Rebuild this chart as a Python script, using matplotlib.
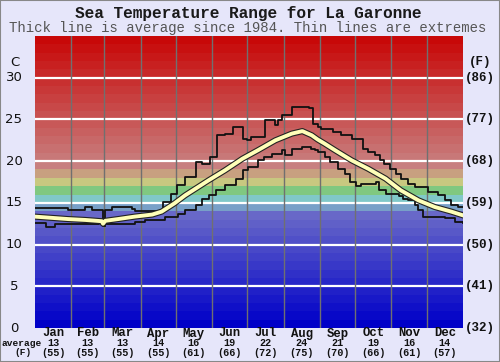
import matplotlib
matplotlib.use('Agg')
import matplotlib.pyplot as plt
import matplotlib.patheffects as pe
from matplotlib.patches import Rectangle

# ---------------- data ----------------
months = ['Jan', 'Feb', 'Mar', 'Apr', 'May', 'Jun', 'Jul', 'Aug', 'Sep', 'Oct', 'Nov', 'Dec']
month_days = [31, 28, 31, 30, 31, 30, 31, 31, 30, 31, 30, 31]
month_avg_c = [13, 13, 13, 14, 16, 19, 22, 24, 21, 19, 16, 14]
month_avg_f = [55, 55, 55, 55, 61, 66, 72, 75, 70, 66, 61, 57]
c_ticks = [0, 5, 10, 15, 20, 25, 30]
f_ticks = [32, 41, 50, 59, 68, 77, 86]

avg_day = [0, 28, 43, 57, 58, 60, 71, 85, 100, 108, 119, 128, 148, 162, 177, 190,
           205, 219, 228, 236, 241, 247, 256, 270, 284, 299, 312, 327, 341, 355, 365]
avg_temp = [13.35, 13.06, 12.95, 12.8, 12.5, 12.85, 13.06, 13.35, 13.6, 13.95, 14.95, 15.9,
            17.7, 18.9, 20.3, 21.3, 22.5, 23.3, 23.6, 23.1, 22.6, 22.1, 21.3, 20.1, 19.1,
            17.9, 16.5, 15.3, 14.5, 13.95, 13.5]

max_day = [0, 28, 43, 49, 58, 60, 66, 83, 85, 109, 116, 121, 128, 137, 142, 149, 155,
           162, 169, 177, 181, 184, 196, 205, 207, 211, 219, 234, 237, 241, 244, 254, 261,
           270, 280, 284, 290, 294, 298, 303, 308, 312, 318, 324, 335, 344, 350, 355, 361, 365]
max_temp = [14.35, 14.1, 14.5, 14.1, 12.2, 14.1, 14.5, 14.3, 14.0, 15.1, 16.1, 17.1, 18.1,
            19.9, 19.7, 20.5, 23.1, 23.3, 24.1, 22.7, 22.5, 22.9, 24.9, 24.3, 24.9, 25.5,
            26.5, 26.4, 24.5, 24.1, 23.9, 23.5, 23.1, 22.7, 21.5, 21.1, 20.7, 20.1, 19.6,
            19.1, 18.5, 17.9, 17.3, 16.9, 16.3, 15.9, 15.3, 14.7, 14.5, 14.5]

min_day = [0, 9, 17, 55, 58, 60, 85, 94, 111, 122, 128, 137, 142, 148, 154, 162, 171, 177,
           182, 190, 195, 202, 211, 213, 219, 228, 235, 239, 241, 247, 252, 258, 264, 269,
           274, 278, 291, 293, 299, 310, 314, 318, 324, 327, 331, 350, 358, 365]
min_temp = [12.6, 12.1, 12.5, 12.6, 12.2, 12.5, 12.75, 12.9, 13.3, 13.7, 14.1, 14.7, 15.5,
            15.9, 16.5, 17.1, 17.9, 18.9, 19.3, 20.1, 20.5, 20.9, 21.3, 20.7, 21.5, 21.7,
            21.5, 21.3, 21.1, 20.5, 19.9, 19.1, 18.5, 17.5, 17.0, 17.3, 17.5, 16.5, 16.1,
            15.8, 15.5, 15.3, 14.7, 14.1, 13.35, 13.15, 12.75, 12.55]

# ---------------- style ----------------
MONO = ['Liberation Mono', 'DejaVu Sans Mono']
SANS = ['DejaVu Sans']
BG = '#e6e6fa'

def band_color(i):
    if i <= 13:
        v = 8 * i
        return (v / 255, v / 255, 200 / 255)
    special = {14: (120, 160, 200), 15: (128, 200, 200), 16: (128, 200, 128),
               17: (200, 200, 128), 18: (200, 160, 128)}
    if i in special:
        r, g, b = special[i]
        return (r / 255, g / 255, b / 255)
    v = max(0, 128 - 8 * (i - 19))
    return (200 / 255, v / 255, v / 255)

W, H = 500, 362
fig = plt.figure(figsize=(W / 100, H / 100), dpi=100, facecolor=BG)
L, R, T, B = 35, 463, 36, 328
ax = fig.add_axes([L / W, 1 - B / H, (R - L) / W, (B - T) / H])
ax.set_xlim(0, 365)
ax.set_ylim(0, 35)

for i in range(35):
    ax.axhspan(i, i + 1, color=band_color(i), lw=0, zorder=0)

for c in c_ticks[1:]:
    ax.axhline(c, color='white', lw=1.6, zorder=1)

edges = [0]
for d in month_days:
    edges.append(edges[-1] + d)
for e in edges[1:-1]:
    ax.axvline(e, color='#707070', lw=1.0, zorder=1)

ax.step(max_day, max_temp, where='post', color='#111111', lw=1.3, zorder=3)
ax.step(min_day, min_temp, where='post', color='#111111', lw=1.3, zorder=3)
ax.plot(avg_day, avg_temp, color='#ffffb8', lw=2.8, zorder=4,
        path_effects=[pe.Stroke(linewidth=4.4, foreground='#222222'), pe.Normal()])

for s in ax.spines.values():
    s.set_visible(False)
ax.set_xticks([])
ax.set_yticks([])

# left / right axis labels
def fy(px):
    return 1 - px / H

for c, f in zip(c_ticks, f_ticks):
    ypx = B - (B - T) * c / 35
    fig.text(14 / W, fy(ypx), str(c), ha='center', va='center', fontsize=9.5,
             family=SANS, color='#111111')
    fig.text(480 / W, fy(ypx), '(%d)' % f, ha='center', va='center', fontsize=9,
             family=MONO, weight='bold', color='#111111')
fig.text(15 / W, fy(62), 'C', ha='center', va='center', fontsize=9.5, family=SANS,
         color='#111111')
fig.text(480 / W, fy(62), '(F)', ha='center', va='center', fontsize=9, family=MONO,
         weight='bold', color='#111111')

# month labels
for i, m in enumerate(months):
    mid = (edges[i] + edges[i + 1]) / 2
    xpx = L + (R - L) * mid / 365
    fig.text(xpx / W, fy(333.5), m, ha='center', va='center', fontsize=8.8,
             family=MONO, weight='bold', color='#111111')
    fig.text(xpx / W, fy(343), str(month_avg_c[i]), ha='center', va='center',
             fontsize=7.3, family=MONO, weight='bold', color='#111111')
    fig.text(xpx / W, fy(352.5), '(%d)' % month_avg_f[i], ha='center', va='center',
             fontsize=7.3, family=MONO, weight='bold', color='#111111')
fig.text(22 / W, fy(343), 'average', ha='center', va='center', fontsize=6.8,
         family=MONO, weight='bold', color='#111111')
fig.text(23.5 / W, fy(352.5), '(F)', ha='center', va='center', fontsize=6.8,
         family=MONO, weight='bold', color='#111111')

# titles
fig.text(248 / W, fy(13.3), 'Sea Temperature Range for La Garonne', ha='center',
         va='center', fontsize=11.6, family=MONO, weight='bold', color='#1a1a1a')
fig.text(248 / W, fy(28.3), 'Thick line is average since 1984. Thin lines are extremes',
         ha='center', va='center', fontsize=10.1, family=MONO, color='#555555')

fig.patches.append(Rectangle((0, 0), 1, 1, transform=fig.transFigure, fill=False,
                             edgecolor='#888888', lw=1.5))

fig.savefig('out.png', dpi=100, facecolor=BG)
